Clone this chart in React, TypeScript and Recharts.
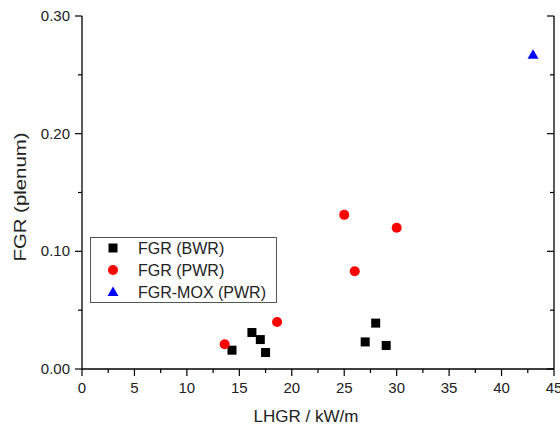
import React from "react";
import { ScatterChart, Scatter, XAxis, YAxis, Legend } from "recharts";

// FGR vs LHGR scatter (BWR / PWR / MOX)

const bwrLhgr = [14.3, 16.2, 17.0, 17.5, 27.0, 28.0, 29.0];
const bwrFgr = [0.016, 0.031, 0.025, 0.014, 0.023, 0.039, 0.02];

const pwrLhgr = [13.6, 18.6, 25.0, 26.0, 30.0];
const pwrFgr = [0.021, 0.04, 0.131, 0.083, 0.12];

const moxLhgr = [43.0];
const moxFgr = [0.267];

const xTicks = [0, 2.5, 5, 7.5, 10, 12.5, 15, 17.5, 20, 22.5, 25, 27.5, 30, 32.5, 35, 37.5, 40, 42.5, 45];
const yTicks = [0, 0.05, 0.1, 0.15, 0.2, 0.25, 0.3];

const legendItems = [
  { name: "FGR (BWR)", symbol: "square", color: "#000000" },
  { name: "FGR (PWR)", symbol: "circle", color: "#ff0000" },
  { name: "FGR-MOX (PWR)", symbol: "triangle", color: "#0000ff" },
];

const bwrData = bwrLhgr.map((x, i) => ({ x, y: bwrFgr[i] }));
const pwrData = pwrLhgr.map((x, i) => ({ x, y: pwrFgr[i] }));
const moxData = moxLhgr.map((x, i) => ({ x, y: moxFgr[i] }));

const FONT = "'Liberation Sans', Arial, sans-serif";
const AXIS = { stroke: "#000", strokeWidth: 1.3 };

const isMajorX = (v: number) => v % 5 === 0;
const isMajorY = (v: number) => Math.abs(v * 10 - Math.round(v * 10)) < 1e-6;

function Marker({ kind, cx, cy, color }: any) {
  if (kind === "square") return <rect x={cx - 4.5} y={cy - 4.5} width={9} height={9} fill={color} />;
  if (kind === "circle") return <circle cx={cx} cy={cy} r={5} fill={color} />;
  return <polygon points={`${cx},${cy - 5.5} ${cx + 5.5},${cy + 4} ${cx - 5.5},${cy + 4}`} fill={color} />;
}

function BottomTick({ x, y, payload }: any) {
  const major = isMajorX(payload.value);
  return (
    <g>
      <line x1={x} x2={x} y1={y} y2={y + (major ? 7 : 4)} stroke="#000" strokeWidth={1.2} />
      {major && (
        <text x={x} y={y + 24} textAnchor="middle" fontSize={15} fontFamily={FONT} fill="#222">
          {payload.value}
        </text>
      )}
    </g>
  );
}

function TopTick({ x, y, payload }: any) {
  const major = isMajorX(payload.value);
  return <line x1={x} x2={x} y1={y} y2={y + (major ? 7 : 4)} stroke="#000" strokeWidth={1.2} />;
}

function LeftTick({ x, y, payload }: any) {
  const major = isMajorY(payload.value);
  return (
    <g>
      <line x1={x} x2={x - (major ? 7 : 4)} y1={y} y2={y} stroke="#000" strokeWidth={1.2} />
      {major && (
        <text x={x - 12} y={y + 5} textAnchor="end" fontSize={15} fontFamily={FONT} fill="#222">
          {payload.value.toFixed(2)}
        </text>
      )}
    </g>
  );
}

function RightTick({ x, y, payload }: any) {
  const major = isMajorY(payload.value);
  return <line x1={x} x2={x - (major ? 7 : 4)} y1={y} y2={y} stroke="#000" strokeWidth={1.2} />;
}

function XTitle() {
  return (
    <text x={306} y={422} textAnchor="middle" fontSize={17} fontFamily={FONT} fill="#222">
      LHGR / kW/m
    </text>
  );
}

function YTitle() {
  return (
    <text
      transform="translate(26, 197) rotate(-90) scale(1.2, 1)"
      textAnchor="middle"
      fontSize={17}
      fontFamily={FONT}
      fill="#222"
    >
      FGR (plenum)
    </text>
  );
}

function LegendBox() {
  return (
    <svg width={187} height={66} style={{ display: "block" }}>
      <rect x={0.5} y={0.5} width={186} height={65} fill="#fff" stroke="#555" strokeWidth={1} />
      {legendItems.map((item, i) => {
        const cy = 11 + i * 22;
        return (
          <g key={item.name}>
            <Marker kind={item.symbol} cx={23} cy={cy} color={item.color} />
            <text x={48} y={cy + 6} fontSize={16} fontFamily={FONT} fill="#222">
              {item.name}
            </text>
          </g>
        );
      })}
    </svg>
  );
}

export default function App() {
  return (
    <div style={{ position: "absolute", left: 0, top: 0, width: 560, height: 425, background: "#fff" }}>
      <ScatterChart width={560} height={425} margin={{ top: 16, right: 5, bottom: 0, left: 0 }}>
        <XAxis
          xAxisId="b"
          type="number"
          dataKey="x"
          domain={[0, 45]}
          allowDataOverflow
          ticks={xTicks}
          interval={0}
          height={56}
          tickSize={0}
          tickMargin={0}
          tickLine={false}
          axisLine={AXIS}
          tick={(p: any) => <BottomTick {...p} />}
          label={<XTitle />}
        />
        <XAxis
          xAxisId="t"
          orientation="top"
          type="number"
          dataKey="x"
          domain={[0, 45]}
          allowDataOverflow
          ticks={xTicks}
          interval={0}
          height={0}
          tickSize={0}
          tickMargin={0}
          tickLine={false}
          axisLine={AXIS}
          tick={(p: any) => <TopTick {...p} />}
        />
        <YAxis
          yAxisId="l"
          type="number"
          dataKey="y"
          domain={[0, 0.3]}
          allowDataOverflow
          ticks={yTicks}
          interval={0}
          width={82}
          tickSize={0}
          tickMargin={0}
          tickLine={false}
          axisLine={AXIS}
          tick={(p: any) => <LeftTick {...p} />}
          label={<YTitle />}
        />
        <YAxis
          yAxisId="r"
          orientation="right"
          type="number"
          dataKey="y"
          domain={[0, 0.3]}
          allowDataOverflow
          ticks={yTicks}
          interval={0}
          width={1}
          tickSize={0}
          tickMargin={0}
          tickLine={false}
          axisLine={AXIS}
          tick={(p: any) => <RightTick {...p} />}
        />
        <Legend
          layout="vertical"
          align="center"
          verticalAlign="middle"
          wrapperStyle={{ left: 90, top: 237, width: 187, height: 66 }}
          content={() => <LegendBox />}
        />
        <Scatter
          name="FGR (BWR)"
          data={bwrData}
          xAxisId="b"
          yAxisId="l"
          isAnimationActive={false}
          shape={(p: any) => <Marker kind="square" cx={p.cx} cy={p.cy} color="#000000" />}
        />
        <Scatter
          name="FGR (PWR)"
          data={pwrData}
          xAxisId="b"
          yAxisId="l"
          isAnimationActive={false}
          shape={(p: any) => <Marker kind="circle" cx={p.cx} cy={p.cy} color="#ff0000" />}
        />
        <Scatter
          name="FGR-MOX (PWR)"
          data={moxData}
          xAxisId="t"
          yAxisId="r"
          isAnimationActive={false}
          shape={(p: any) => <Marker kind="triangle" cx={p.cx} cy={p.cy} color="#0000ff" />}
        />
      </ScatterChart>
    </div>
  );
}
